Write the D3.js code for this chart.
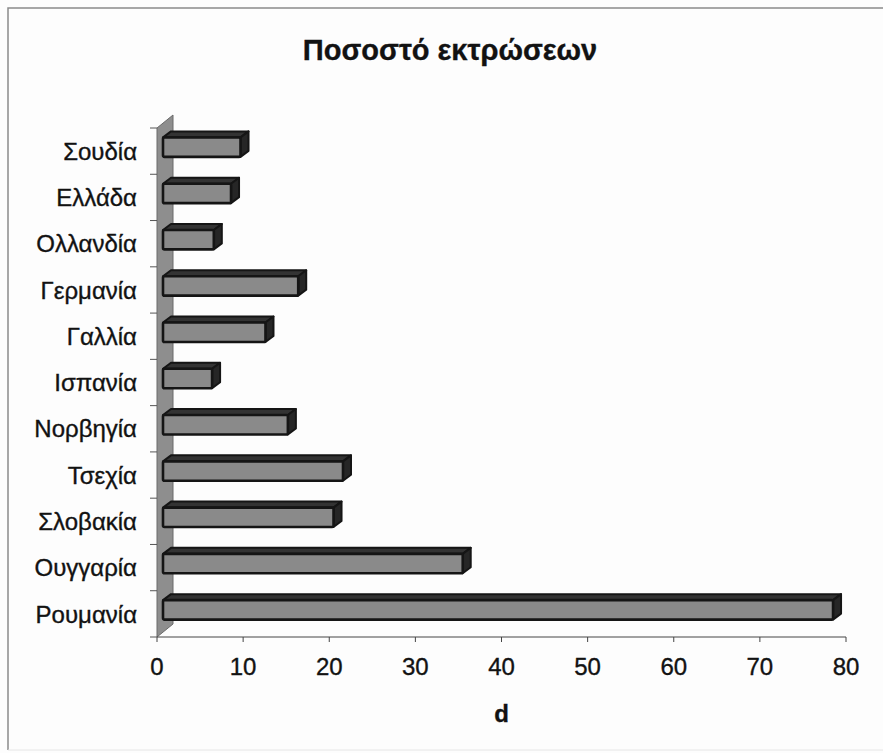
<!DOCTYPE html>
<html>
<head>
<meta charset="utf-8">
<script src="https://cdn.jsdelivr.net/npm/d3@7"></script>
<style>
  html, body { margin: 0; padding: 0; background: #fdfdfd; }
  svg { display: block; }
  text { font-family: "Liberation Sans", Arial, Helvetica, sans-serif; fill: #121212; stroke: #121212; stroke-width: 0.35; }
</style>
</head>
<body>
<svg id="chart" width="883" height="753"></svg>
<script>
// Abortion rate by country
const categories = ["Σουδία", "Ελλάδα", "Ολλανδία", "Γερμανία", "Γαλλία", "Ισπανία",
                    "Νορβηγία", "Τσεχία", "Σλοβακία", "Ουγγαρία", "Ρουμανία"];
const values = [9, 7.9, 5.9, 15.7, 11.9, 5.7, 14.5, 20.9, 19.8, 34.8, 77.8];
const xTicks = [0, 10, 20, 30, 40, 50, 60, 70, 80];
const titleText = "Ποσοστό εκτρώσεων";
const axisTitle = "d";

const W = 883, H = 753;
const svg = d3.select("#chart");

svg.append("rect").attr("width", W).attr("height", H).attr("fill", "#fdfdfd");

// outer chart frame
svg.append("path")
  .attr("d", `M8,${H - 3} L8,8 L${W},8`)
  .attr("fill", "none").attr("stroke", "#8a8a8a").attr("stroke-width", 1.5);
svg.append("line")
  .attr("x1", 8).attr("x2", W).attr("y1", H - 3).attr("y2", H - 3)
  .attr("stroke", "#e6e6e6").attr("stroke-width", 1);

// plot geometry (front plane)
const plotLeft = 157, plotRight = 846, plotTop = 128, plotBottom = 637;
// full depth of the 3D box and depth of each bar
const depth = { dx: 16, dy: -13 };
const barOff = { dx: 6, dy: -5 };     // front of bars sits this far back
const barDepth = { dx: 8, dy: -6 };

const x = d3.scaleLinear().domain([0, 80]).range([plotLeft, plotRight]);
const y = d3.scaleBand().domain(categories).range([plotTop, plotBottom]);
const barH = y.bandwidth() * 0.42;

// floor at value 0 (left wall)
svg.append("polygon")
  .attr("points", [
    [plotLeft, plotTop],
    [plotLeft + depth.dx, plotTop + depth.dy],
    [plotLeft + depth.dx, plotBottom + depth.dy],
    [plotLeft, plotBottom]
  ].map(p => p.join(",")).join(" "))
  .attr("fill", "#8e8e8e").attr("stroke", "#6a6a6a").attr("stroke-width", 1);

// bars
const bars = svg.append("g");
categories.forEach((c, i) => {
  const v = values[i];
  const x0 = x(0) + barOff.dx;
  const x1 = x(v) + barOff.dx;
  const y0 = y(c) + barOff.dy + (y.bandwidth() - barH) / 2 + 1;
  const y1 = y0 + barH;
  const g = bars.append("g");
  // top face
  g.append("polygon")
    .attr("points", [[x0, y0], [x0 + barDepth.dx, y0 + barDepth.dy],
                     [x1 + barDepth.dx, y0 + barDepth.dy], [x1, y0]].map(p => p.join(",")).join(" "))
    .attr("fill", "#333").attr("stroke", "#151515").attr("stroke-width", 2)
    .attr("stroke-linejoin", "round");
  // side face
  g.append("polygon")
    .attr("points", [[x1, y0], [x1 + barDepth.dx, y0 + barDepth.dy],
                     [x1 + barDepth.dx, y1 + barDepth.dy], [x1, y1]].map(p => p.join(",")).join(" "))
    .attr("fill", "#262626").attr("stroke", "#151515").attr("stroke-width", 2)
    .attr("stroke-linejoin", "round");
  // front face
  g.append("rect")
    .attr("x", x0).attr("y", y0).attr("width", x1 - x0).attr("height", barH)
    .attr("rx", 1.5)
    .attr("fill", "#8a8a8a").attr("stroke", "#151515").attr("stroke-width", 2.6)
    .attr("stroke-linejoin", "round");
});

// value axis
const xAxis = svg.append("g");
xAxis.append("line")
  .attr("x1", plotLeft).attr("x2", plotRight).attr("y1", plotBottom).attr("y2", plotBottom)
  .attr("stroke", "#444").attr("stroke-width", 1);
xAxis.selectAll("line.tick").data(xTicks).join("line")
  .attr("class", "tick")
  .attr("x1", d => x(d)).attr("x2", d => x(d))
  .attr("y1", plotBottom).attr("y2", plotBottom + 5)
  .attr("stroke", "#444").attr("stroke-width", 1);
xAxis.selectAll("text").data(xTicks).join("text")
  .attr("x", d => x(d)).attr("y", 675)
  .attr("text-anchor", "middle")
  .attr("font-size", 24)
  .text(d => d);

// category axis ticks and labels
const yAxis = svg.append("g");
const bounds = categories.map(c => y(c)).concat([plotBottom]);
yAxis.selectAll("line").data(bounds).join("line")
  .attr("x1", plotLeft - 7).attr("x2", plotLeft)
  .attr("y1", d => d).attr("y2", d => d)
  .attr("stroke", "#555").attr("stroke-width", 1);
yAxis.selectAll("text").data(categories).join("text")
  .attr("x", 137)
  .attr("y", d => y(d) + y.bandwidth() / 2)
  .attr("dy", "0.36em")
  .attr("text-anchor", "end")
  .attr("font-size", 24)
  .text(d => d);

// titles
svg.append("text")
  .attr("x", 450).attr("y", 60)
  .attr("text-anchor", "middle")
  .attr("font-size", 29).attr("font-weight", "bold")
  .text(titleText);
svg.append("text")
  .attr("x", (plotLeft + plotRight) / 2).attr("y", 722)
  .attr("text-anchor", "middle")
  .attr("font-size", 24).attr("font-weight", "bold")
  .text(axisTitle);
</script>
</body>
</html>
